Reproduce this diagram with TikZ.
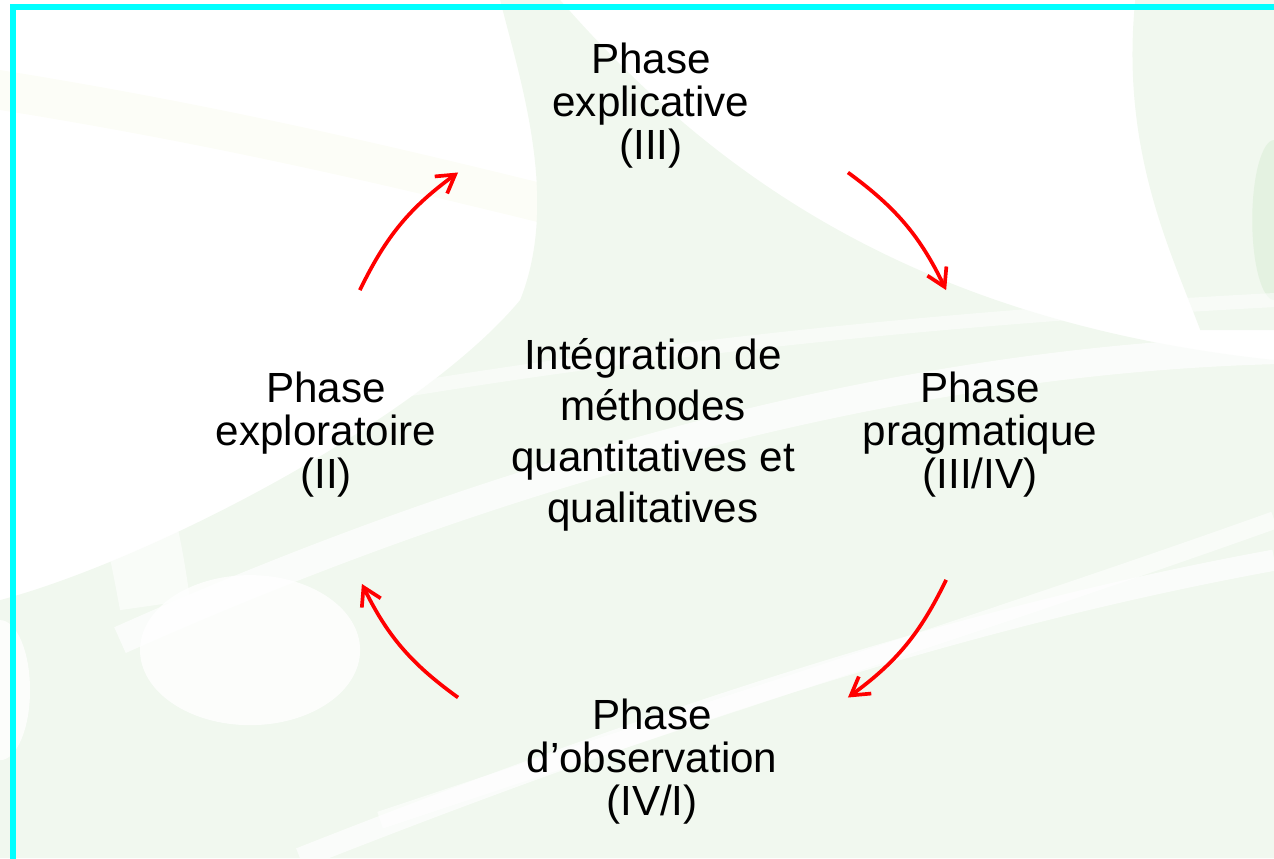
\documentclass[tikz,border=0pt]{standalone}
\usepackage{fontspec}
\setmainfont{Liberation Sans}
\usetikzlibrary{arrows.meta}
\definecolor{swoosh}{RGB}{241,248,239}
\definecolor{swooshdark}{RGB}{228,242,225}
\definecolor{haze}{RGB}{252,253,247}
\definecolor{framecyan}{RGB}{0,255,255}

\begin{document}
\begin{tikzpicture}[cyc/.style={-{Straight Barb[length=10pt,width=12pt]},red,line width=2.1pt},
                    phase/.style={align=center,font=\fontsize{24}{24.5}\selectfont},
                    mid/.style={align=center,font=\fontsize{24}{29}\selectfont}]

  \useasboundingbox (0,0) rectangle (25.48,17.16);
  \clip (0,0) rectangle (25.48,17.16);

  % background swooshes (pixel units, y down)
  \begin{scope}[x=0.02cm,y=-0.02cm,yshift=17.16cm]
    \fill[haze] (0,70) .. controls (250,110) and (450,160) .. (650,210) -- (650,250) .. controls (450,200) and (250,150) .. (0,110) -- cycle;
    \fill[swoosh] (560,0) .. controls (700,160) and (900,320) .. (1274,360) -- (1274,858) -- (0,858)
      -- (0,600) .. controls (150,560) and (420,420) .. (520,300) .. controls (560,200) and (520,80) .. (500,0) -- cycle;
    \fill[swoosh] (1135,0) .. controls (1120,150) and (1170,250) .. (1200,330) -- (1274,330) -- (1274,0) -- cycle;
    \fill[swooshdark] (1274,220) ellipse [x radius=22, y radius=80];
    \draw[white,line width=16pt,opacity=.7] (120,640) .. controls (500,470) and (900,360) .. (1274,350);
    \draw[white,line width=12pt,opacity=.7] (300,858) .. controls (700,700) and (1000,610) .. (1274,560);
    \draw[white,line width=10pt,opacity=.6] (380,820) .. controls (800,680) and (1050,600) .. (1274,520);
    \draw[white,line width=8pt,opacity=.5] (0,470) .. controls (300,400) and (700,330) .. (1274,300);
    \fill[white,opacity=.8] (250,650) ellipse [x radius=110, y radius=75];
    \fill[white,opacity=.8] (0,690) ellipse [x radius=30, y radius=70];
    \fill[white,opacity=.6] (40,370) .. controls (130,360) and (170,450) .. (190,600) -- (120,610) .. controls (100,500) and (80,420) .. (40,370) -- cycle;
  \end{scope}

  % frame
  \draw[framecyan,line width=0.12cm] (0.26,17.02) rectangle (26,-1);

  % phases
  \node[phase] (expl) at (13.02,15.04) {Phase\\explicative\\(III)};
  \node[phase] (prag) at (19.60,8.46) {Phase\\pragmatique\\(III/IV)};
  \node[phase] (obs)  at (13.04,1.92) {Phase\\d’observation\\(IV/I)};
  \node[phase] (expo) at (6.52,8.46) {Phase\\exploratoire\\(II)};
  \node[mid]   (ctr)  at (13.06,8.46) {Intégration de\\méthodes\\quantitatives et\\qualitatives};

  % arrow ends on the circle round the centre
  \path (ctr) ++(153.7:6.54) coordinate (a1s) (ctr) ++(126.6:6.54) coordinate (a1e);
  \path (ctr) ++(53.4:6.54) coordinate (a2s) (ctr) ++(26.3:6.54) coordinate (a2e);
  \path (ctr) ++(-26.3:6.54) coordinate (a3s) (ctr) ++(-53.4:6.54) coordinate (a3e);
  \path (ctr) ++(-126.6:6.54) coordinate (a4s) (ctr) ++(-152.9:6.54) coordinate (a4e);

  \draw[cyc] (a1s) to[bend left=14] (a1e);
  \draw[cyc] (a2s) to[bend left=14] (a2e);
  \draw[cyc] (a3s) to[bend left=14] (a3e);
  \draw[cyc] (a4s) to[bend left=14] (a4e);
\end{tikzpicture}
\end{document}
